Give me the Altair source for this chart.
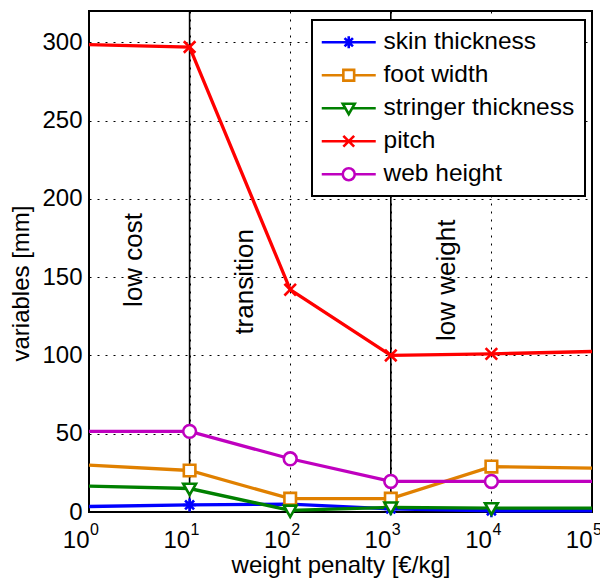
import altair as alt
import pandas as pd

# ---- data ----
penalty = [1, 10, 100, 1000, 10000, 100000]
marker_penalty = [10, 100, 1000, 10000]
series = ["skin thickness", "foot width", "stringer thickness", "pitch", "web height"]
skin = [3.5, 4.5, 5, 2, 0.8, 0.8]
foot = [30, 26.5, 8.5, 8.5, 29, 28]
stringer = [16.5, 15, 1, 3, 2.5, 2.5]
pitch = [298.5, 297, 142, 100, 101, 102.5]
web = [51.5, 51.5, 34, 19.5, 19.5, 19.5]
colors = ["#0000FF", "#E08000", "#008000", "#FF0000", "#BF00BF"]

regions = ["low cost", "transition", "low weight"]
region_x = [2.8, 35.5, 3600]
region_y = [161, 147, 148]
boundaries = [10, 1000]
x_ticks = [1, 10, 100, 1000, 10000, 100000]
x_exponents = ["0", "1", "2", "3", "4", "5"]
y_ticks = [0, 50, 100, 150, 200, 250, 300]

W, H = 503, 501

# marker shapes (unit square -1..1)
plot_shapes = [
    "M-1,0H1M0,-1V1M-0.7,-0.7L0.7,0.7M-0.7,0.7L0.7,-0.7",
    "M-0.9,-0.9H0.9V0.9H-0.9Z",
    "M-1,-0.75L1,-0.75L0,1Z",
    "M-0.9,-0.9L0.9,0.9M-0.9,0.9L0.9,-0.9",
    "M1,0A1,1 0 1,1 -1,0A1,1 0 1,1 1,0Z",
]
L = 4.5
legend_shapes = [
    f"M-{L},0H{L}M0,-1V1M-0.7,-0.7L0.7,0.7M-0.7,0.7L0.7,-0.7",
    f"M-{L},0H-0.9M0.9,0H{L}M-0.9,-0.9H0.9V0.9H-0.9Z",
    f"M-{L},0H-0.57M0.57,0H{L}M-1,-0.75L1,-0.75L0,1Z",
    f"M-{L},0H{L}M-0.9,-0.9L0.9,0.9M-0.9,0.9L0.9,-0.9",
    f"M-{L},0H-1M1,0H{L}M1,0A1,1 0 1,1 -1,0A1,1 0 1,1 1,0Z",
]

FONT = "Liberation Sans"

rows = []
for name, vals in zip(series, [skin, foot, stringer, pitch, web]):
    for p, v in zip(penalty, vals):
        rows.append({"series": name, "penalty": p, "value": v})
df = pd.DataFrame(rows)
df_mark = df[df["penalty"].isin(marker_penalty)]
df_text = pd.DataFrame({"label": regions, "penalty": region_x, "value": region_y})
df_rule = pd.DataFrame({"penalty": boundaries})
df_exp = pd.DataFrame({"penalty": x_ticks, "exp": x_exponents})

x_axis = alt.Axis(
    values=x_ticks,
    labelExpr="'10'",
    labelAlign="right",
    title="weight penalty [€/kg]",
    grid=True, gridColor="black", gridDash=[2, 6], gridWidth=1, gridOpacity=1,
    ticks=False, domain=False,
    labelFont=FONT, labelFontSize=24, labelColor="black", labelPadding=16,
    labelFlush=False,
    titleFont=FONT, titleFontSize=24, titleFontWeight="normal", titleColor="black",
    titlePadding=1,
)
y_axis = alt.Axis(
    values=y_ticks,
    title="variables [mm]",
    grid=True, gridColor="black", gridDash=[2, 6], gridWidth=1, gridOpacity=1,
    ticks=False, domain=False,
    labelFont=FONT, labelFontSize=24, labelColor="black", labelPadding=7,
    titleFont=FONT, titleFontSize=24, titleFontWeight="normal", titleColor="black",
    titlePadding=8, titleY=272,
)
x_scale = alt.Scale(type="log", domain=[1, 100000], nice=False)
y_scale = alt.Scale(domain=[0, 320], nice=False)


def X():
    return alt.X("penalty:Q", scale=x_scale, axis=x_axis)


def Y(field="value"):
    return alt.Y(f"{field}:Q", scale=y_scale, axis=y_axis)


color_scale = alt.Scale(domain=series, range=colors)

rules = alt.Chart(df_rule).mark_rule(color="black", strokeWidth=1.6).encode(x=X())

lines = alt.Chart(df).mark_line(strokeWidth=3.3).encode(
    x=X(), y=Y(),
    color=alt.Color("series:N", scale=color_scale, legend=None),
    detail="series:N",
)

markers = alt.Chart(df_mark).mark_point(
    filled=False, fill="white", strokeWidth=2.6, size=165, opacity=1
).encode(
    x=X(), y=Y(),
    color=alt.Color("series:N", scale=color_scale, legend=None),
    shape=alt.Shape("series:N", scale=alt.Scale(domain=series, range=plot_shapes), legend=None),
)

texts = alt.Chart(df_text).mark_text(
    angle=270, align="center", baseline="middle", font=FONT, fontSize=26, color="black"
).encode(x=X(), y=Y(), text="label:N")

exps = alt.Chart(df_exp).mark_text(
    align="left", baseline="top", font=FONT, fontSize=16, color="black", dx=1
).encode(x=X(), y=alt.value(H + 10), text="exp:N")

leg = alt.Legend(
    title=None, orient="none", legendX=223, legendY=9, padding=10,
    strokeColor="black", fillColor="white",
    labelFont=FONT, labelFontSize=24.5, labelColor="black", labelLimit=400,
    symbolSize=144, symbolOffset=14.5, labelOffset=22.5, rowPadding=8,
    symbolStrokeWidth=2.6,
)

legend_layer = alt.Chart(df_mark).mark_point(
    filled=False, fill="white", strokeWidth=2.6, size=144, opacity=1, clip=True
).transform_calculate(
    yoff="-1000"
).encode(
    x=X(), y=Y("yoff"),
    color=alt.Color("series:N", scale=color_scale, legend=leg),
    shape=alt.Shape("series:N", scale=alt.Scale(domain=series, range=legend_shapes), legend=leg),
)

chart = alt.layer(rules, lines, markers, texts, exps, legend_layer).resolve_scale(
    color="independent", shape="independent"
).properties(
    width=W, height=H,
    padding={"left": 81, "top": 3, "right": 8, "bottom": 66},
    autosize=alt.AutoSizeParams(type="none"),
).configure_view(
    stroke="black", strokeWidth=2
).configure_legend(
    strokeWidth=2
)

chart.save("out.html", embed_options={"renderer": "svg", "actions": False})
